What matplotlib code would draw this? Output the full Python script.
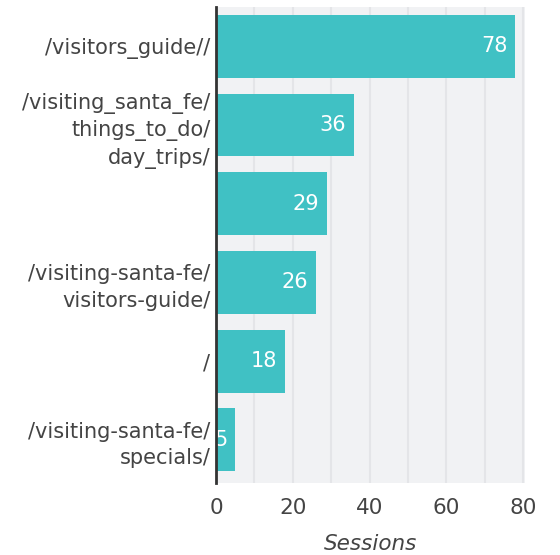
import matplotlib
matplotlib.use("Agg")
import matplotlib.pyplot as plt

categories = ["/visitors_guide//", "/visiting_santa_fe/\nthings_to_do/\nday_trips/", "",
              "/visiting-santa-fe/\nvisitors-guide/", "/", "/visiting-santa-fe/\nspecials/"]
values = [78, 36, 29, 26, 18, 5]
xticks = [0, 20, 40, 60, 80]

plt.rcParams['font.family'] = ['DejaVu Sans']
fig = plt.figure(figsize=(5.6, 5.55), dpi=100)
ax = fig.add_axes([216/560, 1-483/555, (525-216)/560, (483-7)/555])
ax.set_facecolor('#f1f2f4')
ypos = list(range(len(values)))
ax.barh(ypos, values, height=0.8, color='#40c1c4', zorder=3)
ax.set_ylim(len(values)-0.45, -0.5)
ax.set_xlim(0, 80.5)
ax.set_xticks(xticks)
ax.set_xticks(range(10, 81, 20), minor=True)
ax.grid(axis='x', which='both', color='#e4e5e8', linewidth=1.5, zorder=0)
ax.tick_params(axis='x', which='both', length=0, labelsize=15.5, labelcolor='#444444', pad=11)
ax.set_yticks(ypos)
ax.set_yticklabels(categories, fontsize=15, color='#444444', linespacing=1.4)
ax.tick_params(axis='y', length=0, pad=4)
for s in ['top', 'right', 'bottom']:
    ax.spines[s].set_visible(False)
ax.spines['left'].set_color('#333333')
ax.spines['left'].set_linewidth(2)
ax.spines['left'].set_zorder(5)
for y, v in zip(ypos, values):
    ax.annotate(str(v), (v, y), xytext=(-8, 0), textcoords='offset pixels',
                ha='right', va='center', color='white', fontsize=15, zorder=4)
ax.set_xlabel('Sessions', fontsize=15.5, style='italic', color='#444444', labelpad=11)
fig.savefig('out.png', dpi=100)
